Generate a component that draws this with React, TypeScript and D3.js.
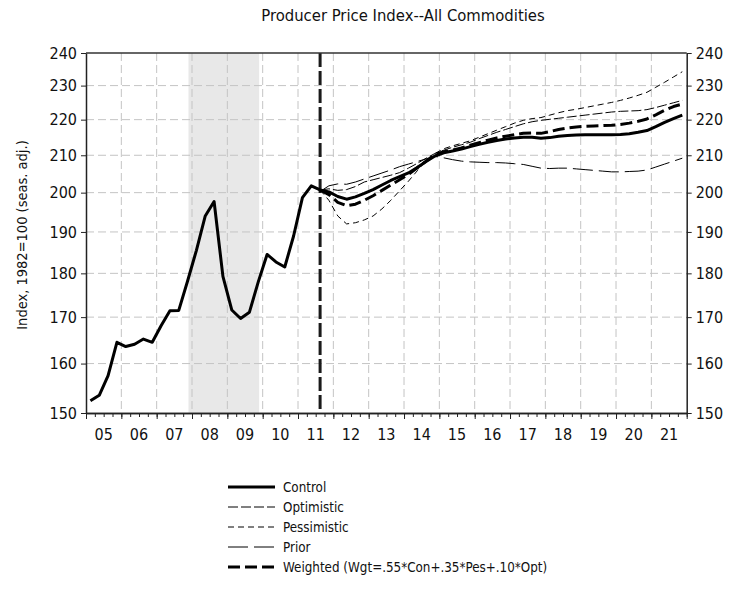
import React, { useEffect, useRef } from 'react'
import * as d3 from 'd3'

// quarterly data, 2005Q1 .. 2011Q3 (history)
const history = [
    152.4, 153.5, 157.5, 164.5,
    163.6, 164.1, 165.2, 164.5,
    168.1, 171.4, 171.5, 178.2,
    185.5, 194.0, 197.7, 179.3,
    171.6, 169.7, 171.1, 178.0,
    184.5, 182.7, 181.5, 189.0,
    198.7, 201.8, 200.7
]

// forecasts, 2011Q3 .. 2021Q4
const control = [
    200.7, 200.2,
    199.0, 198.3, 198.9, 199.8,
    200.8, 202.0, 203.2, 204.2,
    205.2, 206.7, 208.3, 209.8,
    210.7, 211.2, 211.7, 212.4,
    213.0, 213.6, 214.1, 214.5,
    214.8, 215.0, 215.0, 214.7,
    214.9, 215.3, 215.5, 215.6,
    215.7, 215.7, 215.7, 215.7,
    215.8, 216.0, 216.4, 216.9,
    218.0, 219.2, 220.3, 221.3
]
const optimistic = [
    200.7, 201.0,
    200.6, 200.8, 201.6, 202.8,
    203.4, 204.0, 204.6, 205.3,
    206.5, 207.8, 209.2, 210.5,
    211.4, 212.2, 212.9, 213.6,
    214.6, 215.5, 216.4, 217.2,
    218.0, 218.8, 219.4, 219.8,
    220.1, 220.4, 220.7, 221.0,
    221.3, 221.6, 221.9, 222.2,
    222.4, 222.5, 222.6, 222.9,
    223.5, 224.2, 224.9, 225.6
]
const pessimistic = [
    200.7, 198.0,
    194.0, 192.0, 192.3, 193.0,
    194.0, 195.8, 198.0, 200.5,
    203.0, 205.8, 208.5, 210.5,
    211.8, 212.6, 213.3, 214.0,
    215.0, 216.0, 217.0, 218.0,
    219.0, 219.8, 220.3, 220.6,
    221.3, 222.0, 222.6, 223.0,
    223.5, 224.0, 224.5, 225.0,
    225.6, 226.3, 227.1, 228.0,
    229.5, 231.0, 232.6, 234.2
]
const prior = [
    200.3, 201.8,
    202.3, 202.2, 202.8, 203.6,
    204.4, 205.2, 206.0, 206.9,
    207.6, 208.3, 209.0, 209.7,
    209.3, 208.8, 208.4, 208.2,
    208.1, 208.0, 208.0, 207.9,
    207.7, 207.5, 207.0, 206.5,
    206.4, 206.5, 206.5, 206.3,
    206.1, 205.9, 205.7, 205.5,
    205.5, 205.6, 205.7, 206.0,
    206.8, 207.6, 208.4, 209.2
]
const weighted = [
    200.7, 199.5,
    197.5, 196.6, 197.0, 198.0,
    199.2, 200.6, 202.0, 203.4,
    204.8, 206.6, 208.4, 210.2,
    211.0, 211.4, 212.0, 212.8,
    213.5, 214.2, 214.8, 215.3,
    215.7, 216.1, 216.2, 216.1,
    216.6, 217.2, 217.6, 217.9,
    218.1, 218.2, 218.3, 218.4,
    218.6, 219.0, 219.5, 220.2,
    221.4, 222.7, 223.8, 224.5
]

const yearLabels = ['05', '06', '07', '08', '09', '10', '11', '12', '13', '14', '15', '16', '17', '18', '19', '20', '21']
const yTicks = [150, 160, 170, 180, 190, 200, 210, 220, 230, 240]
const recession = [2007.9, 2009.9]
const forecastStart = 2011.625

const legendItems = [
    { name: 'Control', width: 3, dash: null },
    { name: 'Optimistic', width: 1, dash: '10,3' },
    { name: 'Pessimistic', width: 1, dash: '6,4' },
    { name: 'Prior', width: 1, dash: '20,6' },
    { name: 'Weighted (Wgt=.55*Con+.35*Pes+.10*Opt)', width: 3, dash: '12,5' }
]

const FONT = '"Liberation Sans Narrow", "DejaVu Sans Condensed", "Arial Narrow", sans-serif'

const App = () => {
    const ref = useRef<SVGSVGElement>(null)

    useEffect(() => {
        const svg = d3.select(ref.current)
        svg.selectAll('*').remove()

        const left = 86, right = 686.7, top = 53, bottom = 413
        const x = d3.scaleLinear().domain([2005, 2022]).range([left, right])
        const y = d3.scaleLog().domain([150, 240]).range([bottom, top])

        // quarter centres
        const qx = (start: number, i: number) => start + (i + 0.5) / 4
        const histPts = history.map((v, i) => [qx(2005, i), v] as [number, number])
        const fcPts = (arr: number[]) => arr.map((v, i) => [qx(2011.5, i), v] as [number, number])

        // recession shading
        svg.append('rect')
            .attr('x', x(recession[0])).attr('y', top)
            .attr('width', x(recession[1]) - x(recession[0])).attr('height', bottom - top)
            .attr('fill', '#e8e8e8')

        // grid
        const grid = svg.append('g').attr('stroke', '#c4c4c4').attr('stroke-width', 1).attr('stroke-dasharray', '8,4')
        grid.selectAll('.h').data(yTicks.slice(1, -1)).join('line')
            .attr('x1', left).attr('x2', right)
            .attr('y1', d => y(d)).attr('y2', d => y(d))
        grid.selectAll('.v').data(d3.range(2006, 2022)).join('line')
            .attr('class', 'v')
            .attr('x1', d => x(d)).attr('x2', d => x(d))
            .attr('y1', top).attr('y2', bottom)

        // forecast marker
        svg.append('line')
            .attr('x1', x(forecastStart)).attr('x2', x(forecastStart))
            .attr('y1', top).attr('y2', bottom)
            .attr('stroke', '#1a1a1a').attr('stroke-width', 3).attr('stroke-dasharray', '14,4')

        const line = d3.line<[number, number]>().x(d => x(d[0])).y(d => y(d[1]))

        const draw = (pts: [number, number][], w: number, dash: string | null) => {
            svg.append('path')
                .attr('d', line(pts))
                .attr('fill', 'none')
                .attr('stroke', '#000')
                .attr('stroke-width', w)
                .attr('stroke-linejoin', 'round')
                .attr('stroke-dasharray', dash)
        }

        draw(fcPts(prior), 1, '20,6')
        draw(fcPts(optimistic), 1, '10,3')
        draw(fcPts(pessimistic), 1, '6,4')
        draw(histPts.concat(fcPts(control).slice(1)), 3, null)
        draw(fcPts(weighted), 3, '12,5')

        // frame
        svg.append('line').attr('x1', left).attr('x2', right).attr('y1', top).attr('y2', top)
            .attr('stroke', '#333').attr('stroke-width', 1.5)

        const styleAxis = (g: any) => {
            g.selectAll('path.domain').attr('stroke', '#222').attr('stroke-width', 1.5)
            g.selectAll('.tick line').attr('stroke', '#222')
            g.selectAll('.tick text').attr('font-family', FONT).attr('font-size', 16).attr('fill', '#111')
        }

        svg.append('g').attr('transform', `translate(${left},0)`)
            .call(d3.axisLeft(y).tickValues(yTicks).tickFormat(d3.format('d')).tickSize(5).tickSizeOuter(0).tickPadding(4))
            .call(styleAxis)
        svg.append('g').attr('transform', `translate(${right},0)`)
            .call(d3.axisRight(y).tickValues(yTicks).tickFormat(d3.format('d')).tickSize(5).tickSizeOuter(0).tickPadding(4))
            .call(styleAxis)

        // bottom: quarter ticks, year ticks
        svg.append('g').attr('transform', `translate(0,${bottom})`)
            .call(d3.axisBottom(x).tickValues(d3.range(2005, 2022.01, 0.25)).tickSize(4).tickSizeOuter(0).tickFormat(() => ''))
            .call(styleAxis)
        svg.append('g').attr('transform', `translate(0,${bottom})`)
            .call(d3.axisBottom(x).tickValues(d3.range(2005, 2023)).tickSize(6).tickSizeOuter(0).tickFormat(() => ''))
            .call(styleAxis)

        svg.append('g').selectAll('text').data(yearLabels).join('text')
            .attr('x', (d, i) => x(2005.5 + i))
            .attr('y', bottom + 27)
            .attr('text-anchor', 'middle')
            .attr('font-family', FONT).attr('font-size', 16).attr('fill', '#111')
            .text(d => d)

        // titles
        svg.append('text')
            .attr('x', 403).attr('y', 21)
            .attr('text-anchor', 'middle')
            .attr('font-family', FONT).attr('font-size', 16.5).attr('fill', '#111')
            .text('Producer Price Index--All Commodities')

        svg.append('text')
            .attr('transform', `translate(27,${(top + bottom) / 2 + 2}) rotate(-90)`)
            .attr('text-anchor', 'middle')
            .attr('font-family', FONT).attr('font-size', 14.5).attr('fill', '#111')
            .text('Index, 1982=100 (seas. adj.)')

        // legend
        const lg = svg.append('g').attr('transform', 'translate(228,487)')
        legendItems.forEach((it, i) => {
            const row = lg.append('g').attr('transform', `translate(0,${i * 20})`)
            row.append('line').attr('x1', 0).attr('x2', 47).attr('y1', 0).attr('y2', 0)
                .attr('stroke', '#000').attr('stroke-width', it.width)
                .attr('stroke-dasharray', it.dash)
            row.append('text').attr('x', 55).attr('y', 5)
                .attr('font-family', FONT).attr('font-size', 13.3).attr('fill', '#111')
                .text(it.name)
        })
    }, [])

    return (
        <svg ref={ref} width={730} height={590}
            style={{ position: 'absolute', left: 0, top: 0, background: '#fff' }} />
    )
}

export default App
